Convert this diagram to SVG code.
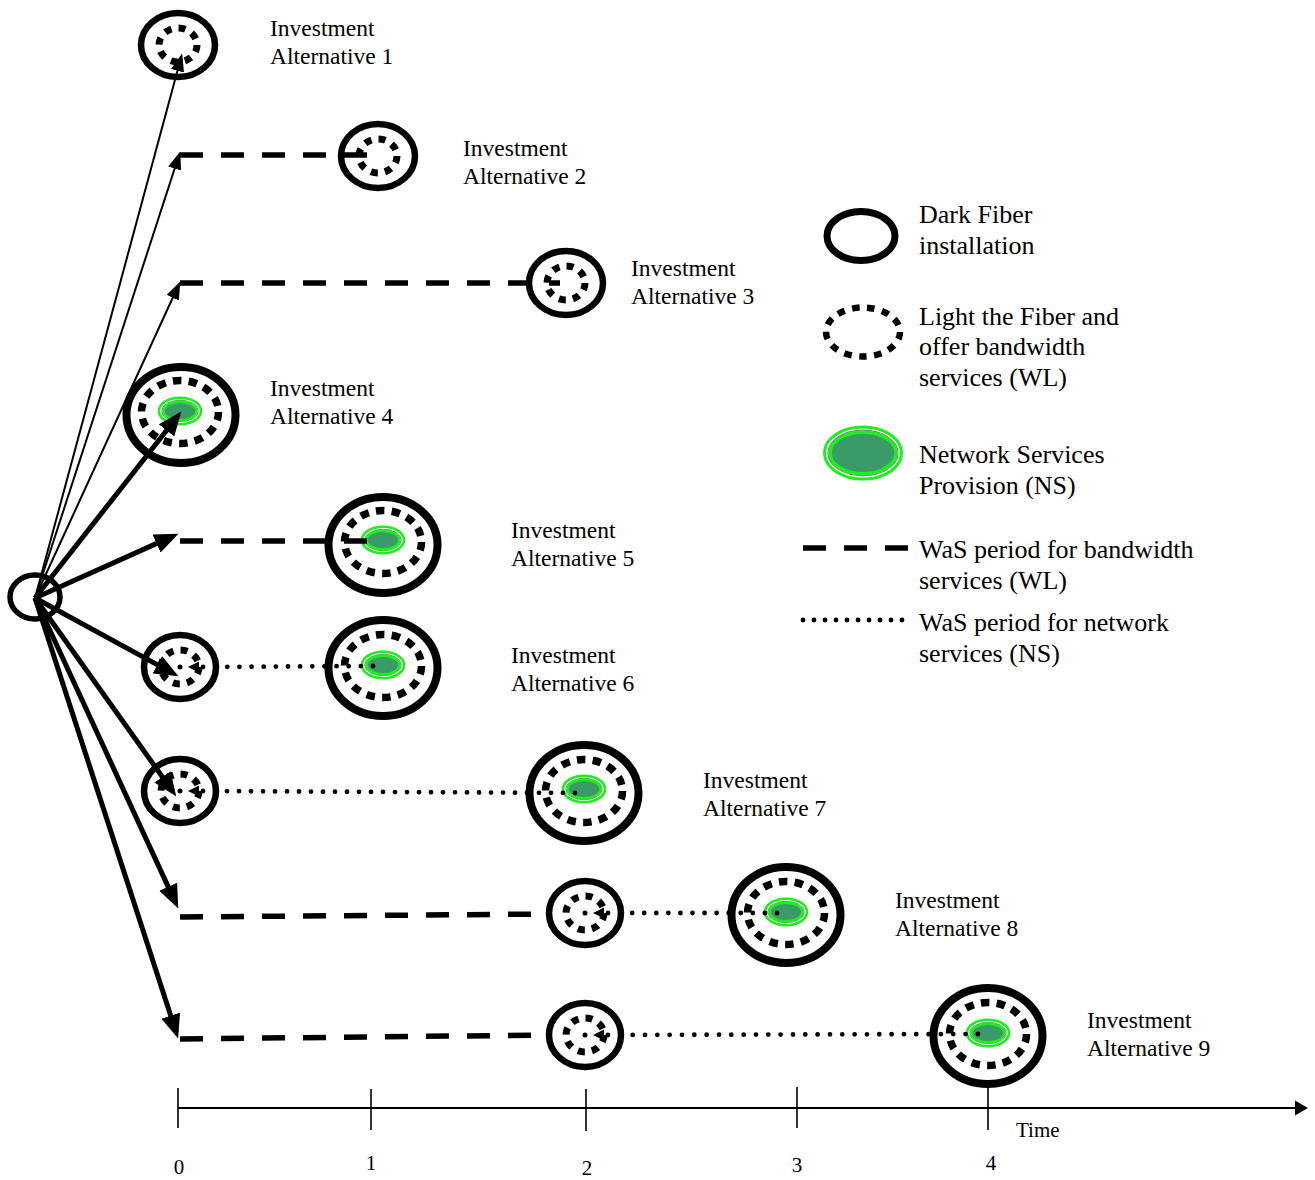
<svg xmlns="http://www.w3.org/2000/svg" xmlns:xlink="http://www.w3.org/1999/xlink" width="1315" height="1180" viewBox="0 0 1315 1180">
  <style>
    .txt { font-family: "Liberation Serif", "Times New Roman", serif; font-size: 23.5px; fill: #000; }
    .leg { font-family: "Liberation Serif", "Times New Roman", serif; font-size: 26px; fill: #000; }
    .axl { font-family: "Liberation Serif", "Times New Roman", serif; font-size: 21px; fill: #000; }
    .df-s { fill: #fff; stroke: #000; stroke-width: 6.5; }
    .df-b { fill: #fff; stroke: #000; stroke-width: 8; }
    .wl-s { fill: none; stroke: #000; stroke-width: 7; stroke-dasharray: 7 7.15; }
    .wl-b { fill: none; stroke: #000; stroke-width: 7.5; stroke-dasharray: 8.5 7.3; }
    .thin { stroke: #000; stroke-width: 2; fill: none; marker-end: url(#headThin); }
    .thick { stroke: #000; stroke-width: 5; fill: none; marker-end: url(#headThick); }
    .dash { stroke: #000; stroke-width: 5.5; fill: none; stroke-dasharray: 23 18; }
    .dot { stroke: #000; stroke-width: 4.8; fill: none; stroke-linecap: round; }
    .tick { stroke: #000; stroke-width: 1.6; }
  </style>
  <defs>
    <marker id="headThin" markerUnits="userSpaceOnUse" markerWidth="18" markerHeight="14" viewBox="0 0 16 12" refX="11" refY="6" orient="auto">
      <path d="M0,0 L16,6 L0,12 Z" fill="#000"/>
    </marker>
    <marker id="headThick" markerUnits="userSpaceOnUse" markerWidth="24" markerHeight="20" viewBox="0 0 22 18" refX="16" refY="9" orient="auto">
      <path d="M0,0 L22,9 L0,18 Z" fill="#000"/>
    </marker>
    <!-- network services provision badge -->
    <g id="ns">
      <ellipse rx="21" ry="13.3" fill="#fff" stroke="#1cf01c" stroke-width="2.6"/>
      <ellipse rx="18.2" ry="10.7" fill="none" stroke="#7a7a7a" stroke-width="1"/>
      <ellipse rx="16.4" ry="9.4" fill="#3a9a68" stroke="#1cf01c" stroke-width="2.6"/>
    </g>
    <g id="nsLegend">
      <ellipse rx="38.5" ry="26" fill="#fff" stroke="#1cf01c" stroke-width="3"/>
      <ellipse rx="35" ry="22.8" fill="none" stroke="#7a7a7a" stroke-width="1.2"/>
      <ellipse rx="33" ry="20.8" fill="#3a9a68" stroke="#1cf01c" stroke-width="3.5"/>
    </g>
  </defs>

  <rect width="1315" height="1180" fill="#fff"/>

  <!-- root: dark fiber installation -->
  <g id="root">
    <ellipse cx="35" cy="597" rx="25" ry="22" fill="none" stroke="#000" stroke-width="5.5"/>
  </g>

  <!-- investment alternatives -->
  <g id="alt1">
    <ellipse class="df-s" cx="178" cy="45" rx="37" ry="32"/>
    <ellipse class="wl-s" cx="178" cy="45" rx="19" ry="17"/>
    <text class="txt" x="270" y="36">Investment</text>
    <text class="txt" x="270" y="64">Alternative 1</text>
  </g>
  <g id="alt2">
    <ellipse class="df-s" cx="378" cy="156" rx="37" ry="32"/>
    <ellipse class="wl-s" cx="378" cy="156" rx="19" ry="17"/>
    <text class="txt" x="463" y="156">Investment</text>
    <text class="txt" x="463" y="184">Alternative 2</text>
  </g>
  <g id="alt3">
    <ellipse class="df-s" cx="566" cy="283" rx="37" ry="32"/>
    <ellipse class="wl-s" cx="566" cy="283" rx="19" ry="17"/>
    <text class="txt" x="631" y="276">Investment</text>
    <text class="txt" x="631" y="304">Alternative 3</text>
  </g>
  <g id="alt4">
    <ellipse class="df-b" cx="181" cy="415" rx="54.5" ry="48"/>
    <ellipse class="wl-b" cx="180" cy="412" rx="38.5" ry="31.5"/>
    <use xlink:href="#ns" x="180" y="411"/>
    <text class="txt" x="270" y="396">Investment</text>
    <text class="txt" x="270" y="424">Alternative 4</text>
  </g>
  <g id="alt5">
    <ellipse class="df-b" cx="383" cy="545" rx="54.5" ry="48"/>
    <ellipse class="wl-b" cx="383" cy="542" rx="38.5" ry="31.5"/>
    <use xlink:href="#ns" x="383" y="540"/>
    <text class="txt" x="511" y="538">Investment</text>
    <text class="txt" x="511" y="566">Alternative 5</text>
  </g>
  <g id="alt6">
    <ellipse class="df-s" cx="180" cy="667" rx="36" ry="32"/>
    <ellipse class="wl-s" cx="180" cy="667" rx="19" ry="17"/>
    <ellipse class="df-b" cx="383" cy="668" rx="54.5" ry="48"/>
    <ellipse class="wl-b" cx="383" cy="666" rx="38.5" ry="31.5"/>
    <use xlink:href="#ns" x="383" y="665"/>
    <text class="txt" x="511" y="663">Investment</text>
    <text class="txt" x="511" y="691">Alternative 6</text>
  </g>
  <g id="alt7">
    <ellipse class="df-s" cx="180" cy="791" rx="36" ry="32"/>
    <ellipse class="wl-s" cx="180" cy="791" rx="19" ry="17"/>
    <ellipse class="df-b" cx="584" cy="793" rx="54.5" ry="48"/>
    <ellipse class="wl-b" cx="584" cy="791" rx="38.5" ry="31.5"/>
    <use xlink:href="#ns" x="584" y="789"/>
    <text class="txt" x="703" y="788">Investment</text>
    <text class="txt" x="703" y="816">Alternative 7</text>
  </g>
  <g id="alt8">
    <ellipse class="df-s" cx="585" cy="913" rx="36" ry="32"/>
    <ellipse class="wl-s" cx="585" cy="913" rx="19" ry="17"/>
    <ellipse class="df-b" cx="786" cy="915" rx="54.5" ry="48"/>
    <ellipse class="wl-b" cx="786" cy="913" rx="38.5" ry="31.5"/>
    <use xlink:href="#ns" x="786" y="912"/>
    <text class="txt" x="895" y="908">Investment</text>
    <text class="txt" x="895" y="936">Alternative 8</text>
  </g>
  <g id="alt9">
    <ellipse class="df-s" cx="585" cy="1035" rx="36" ry="32"/>
    <ellipse class="wl-s" cx="585" cy="1035" rx="19" ry="17"/>
    <ellipse class="df-b" cx="988" cy="1036" rx="54.5" ry="48"/>
    <ellipse class="wl-b" cx="988" cy="1034" rx="38.5" ry="31.5"/>
    <use xlink:href="#ns" x="988" y="1033"/>
    <text class="txt" x="1087" y="1028">Investment</text>
    <text class="txt" x="1087" y="1056">Alternative 9</text>
  </g>

  <!-- connectors -->
  <g id="connectors">
    <!-- decision branches from the root -->
    <line class="thin" x1="35" y1="598" x2="180.7" y2="58.8"/>
    <line class="thin" x1="35" y1="598" x2="178.5" y2="156.8"/>
    <line class="thin" x1="35" y1="598" x2="177.9" y2="286.5"/>
    <line class="thick" x1="35" y1="598" x2="177.3" y2="416.7"/>
    <line class="thick" x1="35" y1="598" x2="172.5" y2="536.4"/>
    <line class="thick" x1="35" y1="598" x2="172.7" y2="673.1"/>
    <line class="thick" x1="35" y1="598" x2="172.5" y2="791.1"/>
    <line class="thick" x1="35" y1="598" x2="175.5" y2="902.6"/>
    <line class="thick" x1="35" y1="598" x2="176.1" y2="1032.3"/>

    <!-- wait-and-see periods, bandwidth services -->
    <line class="dash" x1="180" y1="155" x2="369" y2="155"/>
    <line class="dash" x1="180" y1="283" x2="560" y2="283"/>
    <line class="dash" x1="180" y1="541" x2="372" y2="541"/>
    <line class="dash" x1="180" y1="917" x2="548" y2="914"/>
    <line class="dash" x1="180" y1="1039" x2="548" y2="1035"/>

    <!-- wait-and-see periods, network services -->
    <circle cx="180" cy="667" r="2.5"/>
    <polygon points="188,667 199,661.5 199,672.5"/>
    <line class="dot" x1="203" y1="667" x2="373" y2="666" stroke-dasharray="0 12.14"/>

    <circle cx="180" cy="791" r="2.5"/>
    <polygon points="188,791 199,785.5 199,796.5"/>
    <line class="dot" x1="203" y1="791" x2="575" y2="793" stroke-dasharray="0 12"/>

    <circle cx="585" cy="913" r="2.5"/>
    <polygon points="593,913 604,907.5 604,918.5"/>
    <line class="dot" x1="608" y1="913" x2="777" y2="913" stroke-dasharray="0 12.07"/>

    <circle cx="585" cy="1035" r="2.5"/>
    <polygon points="593,1035 604,1029.5 604,1040.5"/>
    <line class="dot" x1="608" y1="1035" x2="978" y2="1034" stroke-dasharray="0 12.33"/>
  </g>

  <!-- legend -->
  <g id="legend">
    <ellipse cx="861" cy="236" rx="34" ry="24.5" fill="none" stroke="#000" stroke-width="7"/>
    <text class="leg" x="919" y="223">Dark Fiber</text>
    <text class="leg" x="919" y="254">installation</text>

    <ellipse cx="863" cy="332" rx="37" ry="24.5" fill="none" stroke="#000" stroke-width="6.5" stroke-dasharray="7.5 7.5"/>
    <text class="leg" x="919" y="325">Light the Fiber and</text>
    <text class="leg" x="919" y="355">offer bandwidth</text>
    <text class="leg" x="919" y="386">services (WL)</text>

    <use xlink:href="#nsLegend" x="863" y="453"/>
    <text class="leg" x="919" y="463">Network Services</text>
    <text class="leg" x="919" y="494">Provision (NS)</text>

    <line class="dash" x1="803" y1="548" x2="910" y2="548"/>
    <text class="leg" x="919" y="558">WaS period for bandwidth</text>
    <text class="leg" x="919" y="589">services (WL)</text>

    <line class="dot" x1="803" y1="620" x2="913" y2="620" stroke-width="4" stroke-dasharray="0 11"/>
    <text class="leg" x="919" y="631">WaS period for network</text>
    <text class="leg" x="919" y="662">services (NS)</text>
  </g>

  <!-- time axis -->
  <g id="axis">
    <line x1="178" y1="1108" x2="1297" y2="1108" stroke="#000" stroke-width="2.2"/>
    <polygon points="1295,1100.5 1308,1108 1295,1115.5" fill="#000"/>
    <line class="tick" x1="178" y1="1088" x2="178" y2="1128"/>
    <line class="tick" x1="371" y1="1089" x2="371" y2="1130"/>
    <line class="tick" x1="586" y1="1089" x2="586" y2="1131"/>
    <line class="tick" x1="797" y1="1087" x2="797" y2="1128"/>
    <line class="tick" x1="988" y1="1086" x2="988" y2="1130"/>
    <text class="axl" x="1016" y="1137">Time</text>
    <text class="axl" x="179" y="1174" text-anchor="middle">0</text>
    <text class="axl" x="371" y="1170" text-anchor="middle">1</text>
    <text class="axl" x="587" y="1175" text-anchor="middle">2</text>
    <text class="axl" x="797" y="1172" text-anchor="middle">3</text>
    <text class="axl" x="991" y="1170" text-anchor="middle">4</text>
  </g>
</svg>
